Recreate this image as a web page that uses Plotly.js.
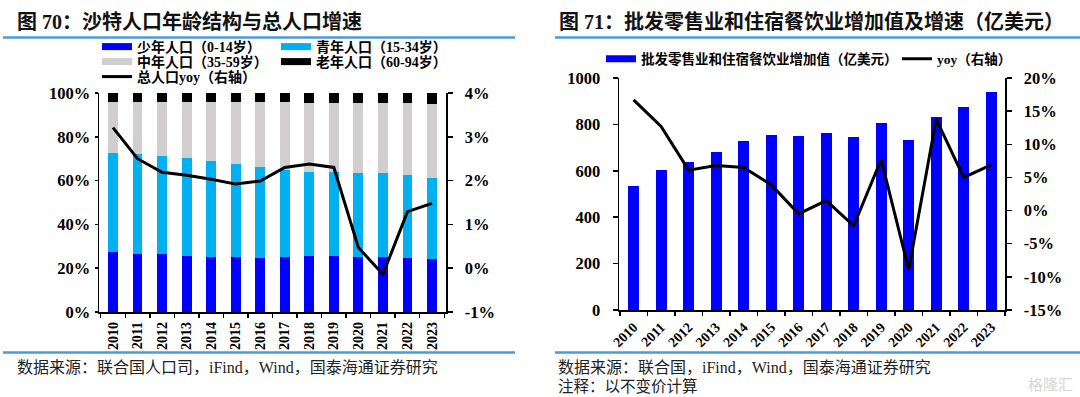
<!DOCTYPE html>
<html><head><meta charset="utf-8">
<script src="https://cdn.plot.ly/plotly-3.0.1.min.js"></script>
<style>html,body{margin:0;padding:0;background:#fff;}#chart{width:1080px;height:397px;}</style>
</head><body><div id="chart"></div>
<script>
// ---------- data ----------
const years = ['2010','2011','2012','2013','2014','2015','2016','2017','2018','2019','2020','2021','2022','2023'];
// Saudi population age structure (% of total)
const youngShare  = [27.5,26.7,26.3,25.8,25.3,24.9,24.7,25.0,25.5,25.5,25.3,25.0,24.6,24.0];
const youthShare  = [45.0,45.4,45.0,44.4,43.7,42.7,41.7,39.9,38.6,38.3,38.4,38.4,38.0,37.2];
const middleShare = [23.4,23.8,24.6,25.7,26.9,28.3,29.5,30.9,31.4,31.7,31.8,32.0,32.7,33.8];
const oldShare    = [4.1,4.1,4.1,4.1,4.1,4.1,4.1,4.2,4.5,4.5,4.5,4.6,4.7,5.0];
const popYoy      = [3.21,2.50,2.19,2.12,2.03,1.92,1.99,2.30,2.38,2.30,0.47,-0.14,1.29,1.48];
// wholesale/retail & hospitality value added (100m USD) and yoy (%)
const gvaValue = [535,604,640,683,729,755,752,765,745,804,734,833,876,940];
const gvaYoy   = [16.7,12.7,6.1,6.8,6.5,3.9,-0.5,1.5,-2.3,7.7,-8.9,13.8,5.0,6.9];
// tick labels
const shareTicks = [0,20,40,60,80,100];
const shareTickText = ['0%','20%','40%','60%','80%','100%'];
const popYoyTicks = [-1,0,1,2,3,4];
const popYoyTickText = ['-1%','0%','1%','2%','3%','4%'];
const gvaTicks = [0,200,400,600,800,1000];
const gvaTickText = ['0','200','400','600','800','1000'];
const gvaYoyTicks = [-15,-10,-5,0,5,10,15,20];
const gvaYoyTickText = ['-15%','-10%','-5%','0%','5%','10%','15%','20%'];

// ---------- helpers ----------
const W = 1080, H = 397;
const px = v => v / W;
const py = v => 1 - v / H;
const FAM = 'Liberation Serif, Noto Sans CJK SC, serif';
const BLUE = '#0000FF', CYAN = '#00B0F0', GREY = '#D0CECE', BLACK = '#000000';

const traces = [
  {type:'bar', x:years, y:youngShare,  marker:{color:BLUE}, width:0.4, showlegend:false, xaxis:'x', yaxis:'y'},
  {type:'bar', x:years, y:youthShare,  marker:{color:CYAN}, width:0.4, showlegend:false, xaxis:'x', yaxis:'y'},
  {type:'bar', x:years, y:middleShare, marker:{color:GREY}, width:0.4, showlegend:false, xaxis:'x', yaxis:'y'},
  {type:'bar', x:years, y:oldShare,    marker:{color:BLACK}, width:0.4, showlegend:false, xaxis:'x', yaxis:'y'},
  {type:'scatter', mode:'lines', x:years, y:popYoy, line:{color:BLACK, width:3}, showlegend:false, xaxis:'x', yaxis:'y2'},
  {type:'bar', x:years, y:gvaValue, marker:{color:BLUE}, width:0.4, showlegend:false, xaxis:'x2', yaxis:'y3'},
  {type:'scatter', mode:'lines', x:years, y:gvaYoy, line:{color:BLACK, width:3}, showlegend:false, xaxis:'x2', yaxis:'y4'},
  // legend entries
  {type:'scatter', mode:'lines', x:[null], y:[null], name:'少年人口（0-14岁）', line:{color:BLUE, width:7}, legend:'legend', xaxis:'x', yaxis:'y'},
  {type:'scatter', mode:'lines', x:[null], y:[null], name:'青年人口（15-34岁）', line:{color:CYAN, width:7}, legend:'legend2', xaxis:'x', yaxis:'y'},
  {type:'scatter', mode:'lines', x:[null], y:[null], name:'中年人口（35-59岁）', line:{color:GREY, width:7}, legend:'legend3', xaxis:'x', yaxis:'y'},
  {type:'scatter', mode:'lines', x:[null], y:[null], name:'老年人口（60-94岁）', line:{color:BLACK, width:7}, legend:'legend4', xaxis:'x', yaxis:'y'},
  {type:'scatter', mode:'lines', x:[null], y:[null], name:'总人口yoy（右轴）', line:{color:BLACK, width:3}, legend:'legend5', xaxis:'x', yaxis:'y'},
  {type:'scatter', mode:'lines', x:[null], y:[null], name:'批发零售业和住宿餐饮业增加值（亿美元）', line:{color:BLUE, width:7}, legend:'legend6', xaxis:'x2', yaxis:'y3'},
  {type:'scatter', mode:'lines', x:[null], y:[null], name:'yoy（右轴）', line:{color:BLACK, width:3}, legend:'legend7', xaxis:'x2', yaxis:'y3'}
];

const tickFont = {family:FAM, size:16.5, color:'#000', weight:'bold'};
const xTickFont = {family:FAM, size:14, color:'#000', weight:'bold'};
function leg(x, y, size){
  return {x:px(x), y:py(y), xanchor:'left', yanchor:'middle', orientation:'v',
          bgcolor:'rgba(0,0,0,0)', borderwidth:0, font:{family:FAM, size:size, color:'#000', weight:'bold'}};
}
const axisBase = {showline:true, linecolor:'#000', linewidth:1.5, showgrid:false, zeroline:false,
                  ticks:'outside', tickcolor:'#000', tickwidth:1.5, fixedrange:true};

const layout = {
  width:W, height:H, margin:{l:0,r:0,t:0,b:0},
  paper_bgcolor:'#fff', plot_bgcolor:'#fff',
  barmode:'stack', bargap:0.6,
  xaxis: Object.assign({}, axisBase, {domain:[px(99),px(446)], anchor:'y', type:'category',
          range:[-0.57,13.57], tickson:'boundaries', ticklen:4, tickangle:-90, tickfont:xTickFont, ticklabelstandoff:3}),
  yaxis: Object.assign({}, axisBase, {domain:[py(312),py(93)], anchor:'x', range:[0,100],
          tickmode:'array', tickvals:shareTicks, ticktext:shareTickText, ticklen:3, tickfont:tickFont, ticklabelstandoff:1}),
  yaxis2: Object.assign({}, axisBase, {overlaying:'y', side:'right', anchor:'x', range:[-1,4],
          tickmode:'array', tickvals:popYoyTicks, ticktext:popYoyTickText, ticklen:5, tickfont:tickFont, ticklabelstandoff:9}),
  xaxis2: Object.assign({}, axisBase, {domain:[px(619),px(1005)], anchor:'y3', type:'category',
          range:[-0.53,13.5], tickson:'boundaries', ticklen:4, tickangle:-45, tickfont:xTickFont, ticklabelstandoff:2}),
  yaxis3: Object.assign({}, axisBase, {domain:[py(310),py(78)], anchor:'x2', range:[0,1000],
          tickmode:'array', tickvals:gvaTicks, ticktext:gvaTickText, ticklen:5, tickfont:tickFont, ticklabelstandoff:9}),
  yaxis4: Object.assign({}, axisBase, {overlaying:'y3', side:'right', anchor:'x2', range:[-15,20],
          tickmode:'array', tickvals:gvaYoyTicks, ticktext:gvaYoyTickText, ticklen:5, tickfont:tickFont, ticklabelstandoff:9}),
  legend: leg(97,47,14), legend2: leg(276,47,14), legend3: leg(97,62,14), legend4: leg(276,62,14), legend5: leg(97,77,14),
  legend6: leg(601,59,13.5), legend7: leg(897,59,13.5),
  shapes: [
    {type:'line', xref:'paper', yref:'paper', x0:px(3), x1:px(515), y0:py(37.5), y1:py(37.5), line:{color:'#4A9BD6', width:2.5}},
    {type:'line', xref:'paper', yref:'paper', x0:px(555), x1:px(1080), y0:py(37.5), y1:py(37.5), line:{color:'#4A9BD6', width:2.5}},
    {type:'line', xref:'paper', yref:'paper', x0:px(3), x1:px(515), y0:py(352.5), y1:py(352.5), line:{color:'#4A9BD6', width:2.5}},
    {type:'line', xref:'paper', yref:'paper', x0:px(555), x1:px(1080), y0:py(352.5), y1:py(352.5), line:{color:'#4A9BD6', width:2.5}}
  ],
  annotations: [
    {text:'图 70：沙特人口年龄结构与总人口增速', xref:'paper', yref:'paper', x:px(15), y:py(22), xanchor:'left', yanchor:'middle', showarrow:false,
     font:{family:FAM, size:20, color:'#111', weight:'bold'}},
    {text:'图 71：批发零售业和住宿餐饮业增加值及增速（亿美元）', xref:'paper', yref:'paper', x:px(557), y:py(22), xanchor:'left', yanchor:'middle', showarrow:false,
     font:{family:FAM, size:20, color:'#111', weight:'bold'}},
    {text:'数据来源：联合国人口司，iFind，Wind，国泰海通证券研究', xref:'paper', yref:'paper', x:px(15), y:py(367), xanchor:'left', yanchor:'middle', showarrow:false,
     font:{family:FAM, size:16, color:'#222'}},
    {text:'数据来源：联合国，iFind，Wind，国泰海通证券研究', xref:'paper', yref:'paper', x:px(556), y:py(367), xanchor:'left', yanchor:'middle', showarrow:false,
     font:{family:FAM, size:16, color:'#222'}},
    {text:'注释：以不变价计算', xref:'paper', yref:'paper', x:px(556), y:py(386), xanchor:'left', yanchor:'middle', showarrow:false,
     font:{family:FAM, size:15.5, color:'#222'}},
    {text:'格隆汇', xref:'paper', yref:'paper', x:px(1075), y:py(383), xanchor:'right', yanchor:'middle', showarrow:false,
     font:{family:'Noto Sans CJK SC, sans-serif', size:15, color:'#d6d6d6'}}
  ]
};

Plotly.newPlot('chart', traces, layout, {displayModeBar:false, staticPlot:true});
</script>
</body></html>
